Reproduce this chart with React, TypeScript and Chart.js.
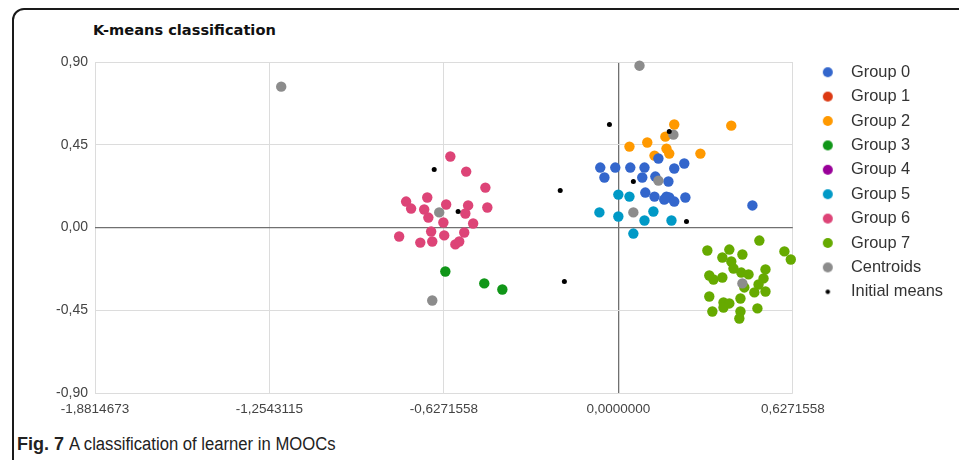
import React, { useEffect, useRef } from "react";
import { Chart, registerables } from "chart.js";
Chart.register(...registerables);

const seriesNames = ["Group 0", "Group 1", "Group 2", "Group 3", "Group 4", "Group 5", "Group 6", "Group 7", "Centroids", "Initial means"];
const seriesColors = ["#3366cc", "#dc3912", "#ff9900", "#109618", "#990099", "#0099c6", "#dd4477", "#66aa00", "#8c8c8c", "#000000"];

const group0X = [0.144, -0.065, -0.011, 0.043, 0.094, 0.201, 0.237, -0.050, 0.086, 0.133, 0.180, 0.097, 0.130, 0.173, 0.183, 0.201, 0.241, 0.482, 0.165];
const group0Y = [0.375, 0.326, 0.326, 0.326, 0.326, 0.321, 0.348, 0.272, 0.272, 0.277, 0.250, 0.190, 0.168, 0.168, 0.163, 0.141, 0.163, 0.120, 0.152];
const group1X: number[] = [];
const group1Y: number[] = [];
const group2X = [0.201, 0.406, 0.169, 0.104, 0.040, 0.173, 0.183, 0.130, 0.295];
const group2Y = [0.560, 0.554, 0.494, 0.462, 0.440, 0.429, 0.402, 0.391, 0.402];
const group3X = [-0.622, -0.482, -0.417];
const group3Y = [-0.239, -0.304, -0.337];
const group4X: number[] = [];
const group4Y: number[] = [];
const group5X = [0.000, 0.040, -0.068, 0.000, 0.126, 0.094, 0.191, 0.054];
const group5Y = [0.179, 0.168, 0.082, 0.060, 0.087, 0.038, 0.038, -0.033];
const group6X = [-0.604, -0.547, -0.478, -0.763, -0.745, -0.687, -0.698, -0.683, -0.619, -0.540, -0.471, -0.550, -0.629, -0.522, -0.788, -0.673, -0.626, -0.554, -0.712, -0.669, -0.586, -0.572];
const group6Y = [0.386, 0.304, 0.217, 0.141, 0.103, 0.163, 0.098, 0.054, 0.125, 0.120, 0.109, 0.076, 0.027, 0.022, -0.049, -0.022, -0.043, -0.027, -0.082, -0.076, -0.092, -0.076];
const group7X = [0.507, 0.320, 0.399, 0.446, 0.597, 0.620, 0.374, 0.406, 0.414, 0.442, 0.468, 0.529, 0.327, 0.342, 0.374, 0.522, 0.504, 0.453, 0.489, 0.529, 0.327, 0.439, 0.378, 0.399, 0.378, 0.338, 0.439, 0.500, 0.435];
const group7Y = [-0.071, -0.125, -0.120, -0.147, -0.130, -0.174, -0.163, -0.185, -0.223, -0.245, -0.255, -0.228, -0.261, -0.283, -0.272, -0.277, -0.310, -0.326, -0.353, -0.348, -0.375, -0.386, -0.408, -0.413, -0.435, -0.457, -0.457, -0.440, -0.495];
const centroidsX = [-1.212, 0.076, -0.644, -0.669, 0.198, 0.144, 0.054, 0.446];
const centroidsY = [0.766, 0.880, 0.082, -0.397, 0.505, 0.255, 0.082, -0.304];
const initialMeansX = [-0.662, -0.576, -0.032, -0.209, 0.183, 0.054, 0.245, -0.194];
const initialMeansY = [0.315, 0.087, 0.560, 0.201, 0.522, 0.250, 0.033, -0.293];

const xTickValues = [-1.8814673, -1.2543115, -0.6271558, 0, 0.6271558];
const xTickLabels = ["-1,8814673", "-1,2543115", "-0,6271558", "0,0000000", "0,6271558"];
const yTickValues = [-0.9, -0.45, 0, 0.45, 0.9];
const yTickLabels = ["-0,90", "-0,45", "0,00", "0,45", "0,90"];

const seriesX = [group0X, group1X, group2X, group3X, group4X, group5X, group6X, group7X, centroidsX, initialMeansX];
const seriesY = [group0Y, group1Y, group2Y, group3Y, group4Y, group5Y, group6Y, group7Y, centroidsY, initialMeansY];

const LEGEND_DX = 12;
const LEGEND_DY = -6;

function marker(color: string, r: number): HTMLCanvasElement {
  const c = document.createElement("canvas");
  const s = Math.ceil(r * 2 + 2);
  c.width = s;
  c.height = s;
  const ctx = c.getContext("2d")!;
  ctx.fillStyle = color;
  ctx.beginPath();
  ctx.arc(s / 2, s / 2, r, 0, Math.PI * 2);
  ctx.fill();
  return c;
}

export default function App() {
  const ref = useRef<HTMLCanvasElement>(null);
  useEffect(() => {
    document.body.style.margin = "0";
    const last = seriesNames.length - 1;
    const datasets = seriesNames.map((name, i) => ({
      label: name,
      data: seriesX[i].map((x, k) => ({ x, y: seriesY[i][k] })),
      backgroundColor: seriesColors[i],
      borderColor: seriesColors[i],
      borderWidth: 0,
      pointRadius: i === last ? 2.5 : 5.2,
      pointHoverRadius: i === last ? 2.5 : 5.2,
      order: i === last ? 0 : i === last - 1 ? 1 : 2 + i,
      clip: false as any,
    }));
    const legendShift = {
      id: "legendShift",
      afterLayout(chart: any) {
        const lg = chart.legend;
        if (lg) {
          lg.left += LEGEND_DX;
          lg.right += LEGEND_DX;
          lg.top += LEGEND_DY;
          lg.bottom += LEGEND_DY;
        }
      },
    };
    const chart = new Chart(ref.current!, {
      type: "scatter",
      data: { datasets },
      plugins: [legendShift],
      options: {
        animation: false,
        responsive: true,
        maintainAspectRatio: false,
        layout: { padding: { top: 22, right: 18, left: 0, bottom: 0 } },
        plugins: {
          tooltip: { enabled: false },
          title: { display: false },
          legend: {
            position: "right",
            align: "start",
            labels: {
              usePointStyle: true,
              pointStyleWidth: 30,
              boxHeight: 12,
              padding: 8.0,
              color: "#333",
              font: { family: "'Liberation Sans', Arial, sans-serif", size: 16.4 },
              generateLabels: (ch: any) =>
                ch.data.datasets.map((ds: any, i: number) => ({
                  text: ds.label,
                  fillStyle: ds.backgroundColor,
                  strokeStyle: ds.backgroundColor,
                  lineWidth: 0,
                  hidden: false,
                  datasetIndex: i,
                  fontColor: "#333",
                  pointStyle: marker(ds.backgroundColor, i === last ? 2.2 : 5),
                })),
            },
          },
        },
        scales: {
          x: {
            type: "linear",
            min: xTickValues[0],
            max: xTickValues[xTickValues.length - 1],
            afterBuildTicks: (s: any) => {
              s.ticks = xTickValues.map((v) => ({ value: v }));
            },
            afterFit: (s: any) => {
              s.height = 27;
            },
            grid: {
              drawTicks: false,
              color: (c: any) => (c.tick && c.tick.value === 0 ? "#707070" : "#dcdcdc"),
              lineWidth: (c: any) => (c.tick && c.tick.value === 0 ? 1.3 : 1),
            },
            border: { display: false },
            ticks: {
              padding: 8,
              maxRotation: 0,
              autoSkip: false,
              color: "#444",
              font: { family: "'Liberation Sans', Arial, sans-serif", size: 13.5 },
              callback: (v: any) => {
                const idx = xTickValues.findIndex((t) => Math.abs(t - v) < 1e-9);
                return idx >= 0 ? xTickLabels[idx] : "";
              },
            },
          },
          y: {
            type: "linear",
            min: yTickValues[0],
            max: yTickValues[yTickValues.length - 1],
            afterBuildTicks: (s: any) => {
              s.ticks = yTickValues.map((v) => ({ value: v }));
            },
            afterFit: (s: any) => {
              s.width = 95;
            },
            grid: {
              drawTicks: false,
              color: (c: any) => (c.tick && c.tick.value === 0 ? "#707070" : "#dcdcdc"),
              lineWidth: (c: any) => (c.tick && c.tick.value === 0 ? 1.3 : 1),
            },
            border: { display: false },
            ticks: {
              padding: 7,
              autoSkip: false,
              color: "#444",
              font: { family: "'Liberation Sans', Arial, sans-serif", size: 14 },
              callback: (v: any) => {
                const idx = yTickValues.findIndex((t) => Math.abs(t - v) < 1e-9);
                return idx >= 0 ? yTickLabels[idx] : "";
              },
            },
          },
        },
      } as any,
    });
    return () => chart.destroy();
  }, []);

  return (
    <div style={{ position: "relative", width: 959, height: 460, overflow: "hidden", background: "#fff" }}>
      <div
        style={{
          position: "absolute",
          left: 12,
          top: 8,
          width: 980,
          height: 480,
          border: "2px solid #1a1a1a",
          borderRadius: 12,
          boxSizing: "border-box",
        }}
      />
      <div
        style={{
          position: "absolute",
          left: 93,
          top: 21,
          fontFamily: "'DejaVu Sans', sans-serif",
          fontWeight: "bold",
          fontSize: 14.6,
          color: "#111",
          whiteSpace: "nowrap",
        }}
      >
        K-means classification
      </div>
      <div style={{ position: "absolute", left: 0, top: 40, width: 959, height: 380 }}>
        <canvas ref={ref} />
      </div>
      <div
        style={{
          position: "absolute",
          left: 17,
          top: 434,
          fontFamily: "'Liberation Sans', Arial, sans-serif",
          fontSize: 18,
          color: "#222",
          whiteSpace: "nowrap",
        }}
      >
        <span style={{ fontWeight: "bold" }}>Fig. 7</span>{" "}
        <span style={{ display: "inline-block", transform: "scaleX(0.925)", transformOrigin: "left center" }}>
          A classification of learner in MOOCs
        </span>
      </div>
    </div>
  );
}
